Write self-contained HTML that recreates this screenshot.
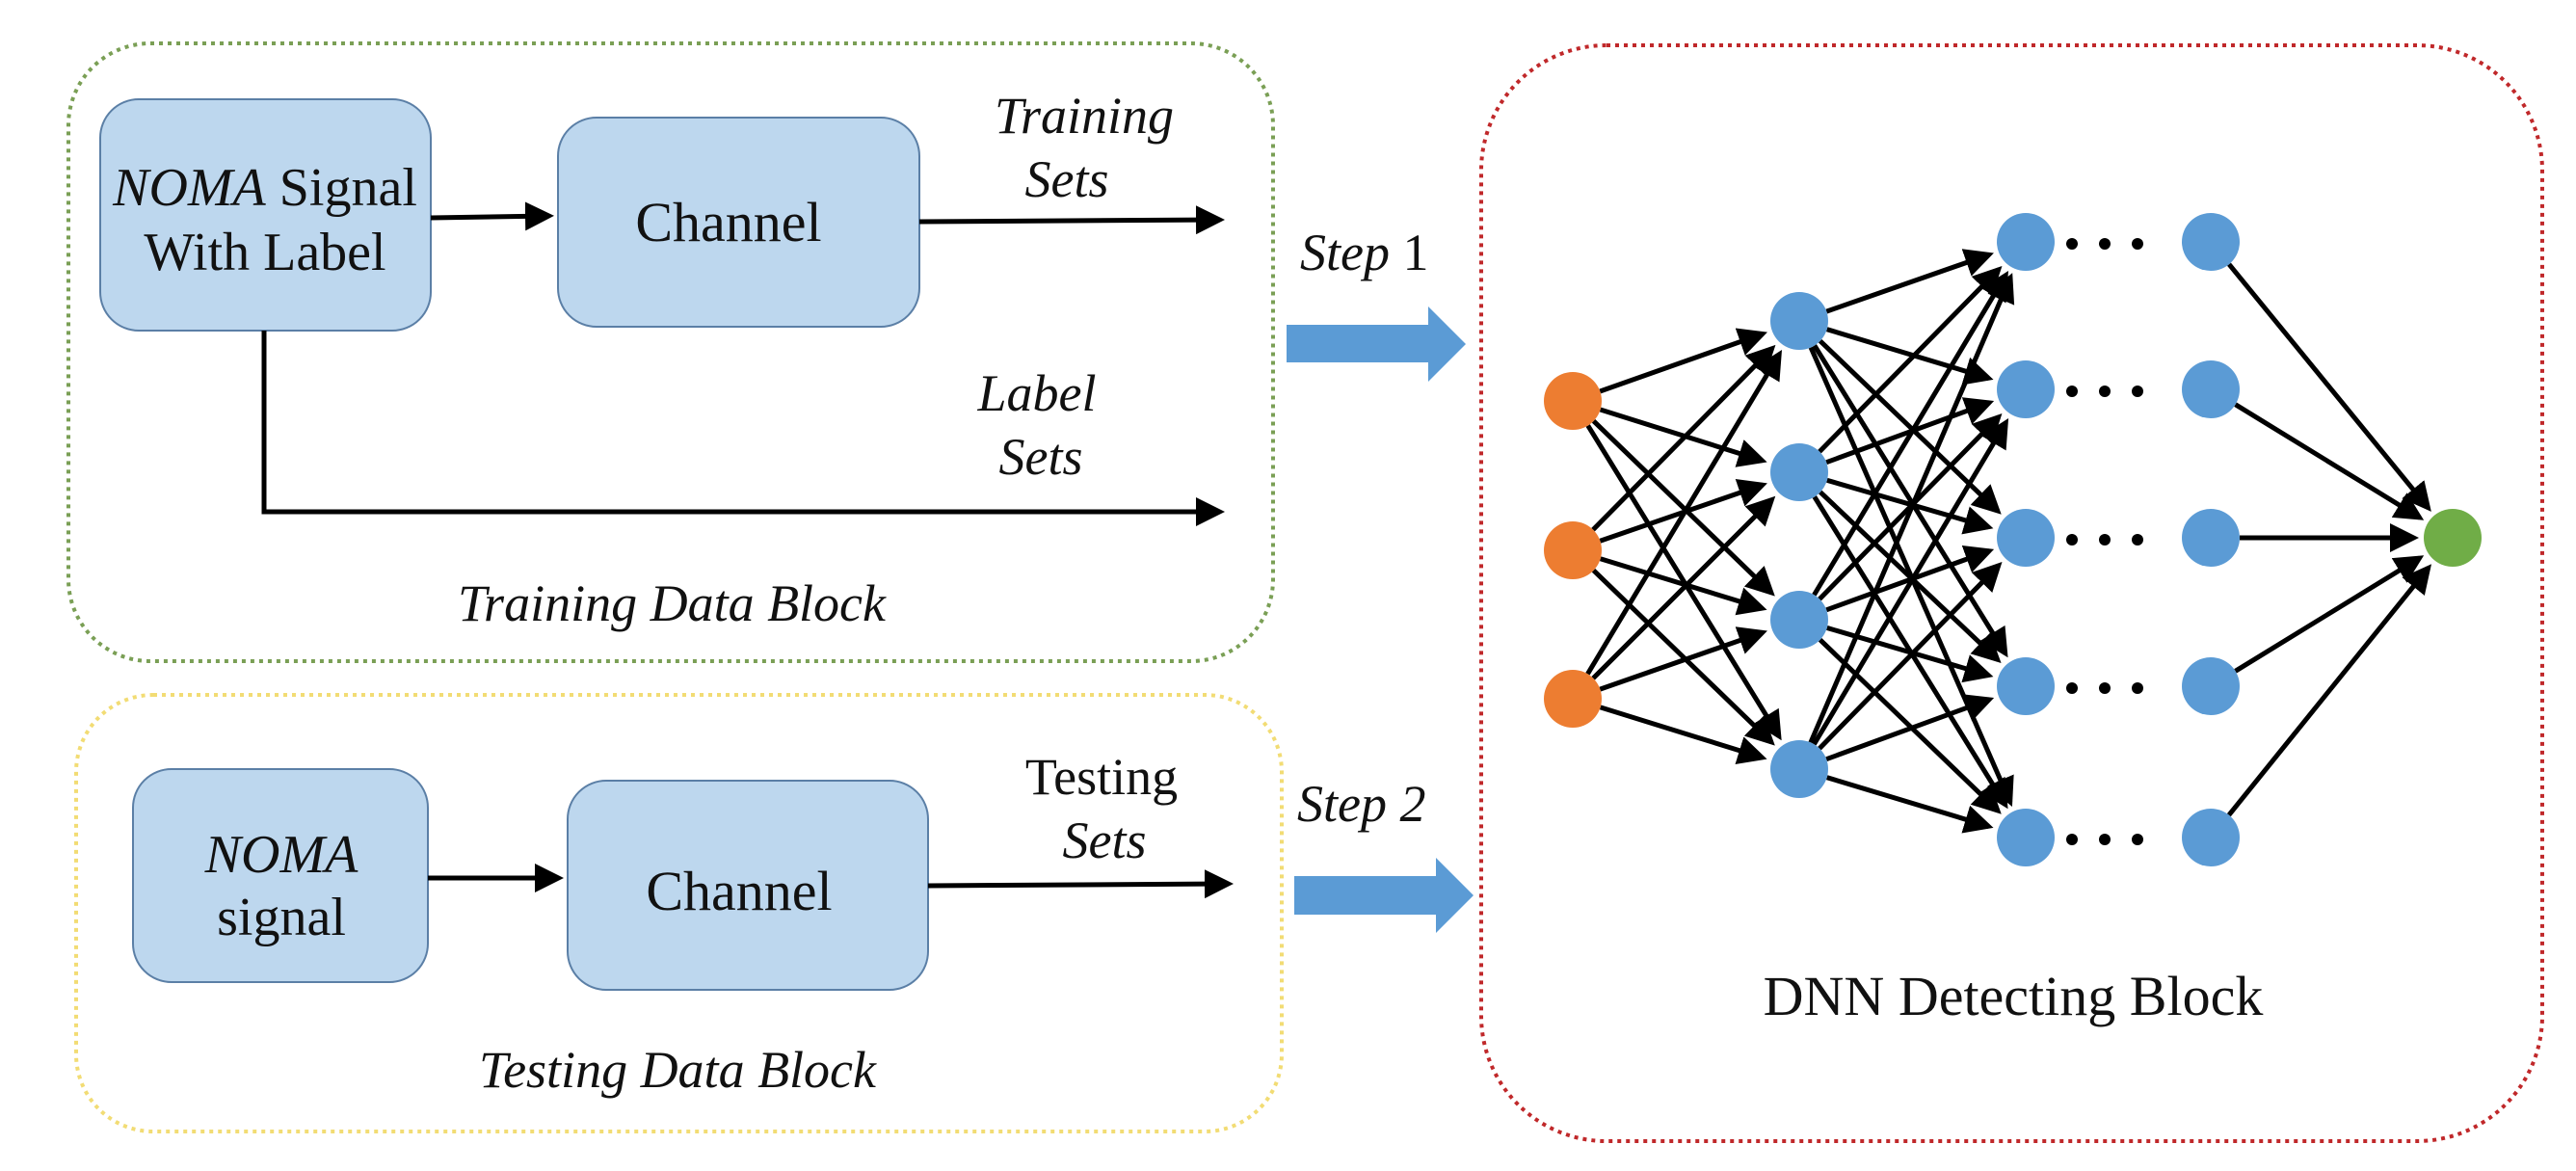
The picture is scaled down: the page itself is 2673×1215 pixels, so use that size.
<!DOCTYPE html>
<html><head><meta charset="utf-8"><style>
html,body{margin:0;padding:0;background:#fff;}
svg{display:block;}
text{font-family:"Liberation Serif","DejaVu Serif",serif !important;fill:#111;}
.it{font-style:italic;}
</style></head><body>
<svg width="2673" height="1215" viewBox="0 0 2673 1215" xmlns="http://www.w3.org/2000/svg" font-family="Liberation Serif, DejaVu Serif, serif">
<defs>
<marker id="ah" markerWidth="6" markerHeight="6" refX="5" refY="3" orient="auto" markerUnits="strokeWidth">
<path d="M0,0 L6,3 L0,6 z" fill="#000"/></marker>
</defs>
<rect x="71" y="45" width="1250" height="641" rx="85" fill="none" stroke="#7a9f55" stroke-width="4" stroke-dasharray="4 5"/>
<rect x="79" y="721" width="1251" height="453" rx="80" fill="none" stroke="#f2dc74" stroke-width="4" stroke-dasharray="4 5"/>
<rect x="1537" y="47" width="1101" height="1137" rx="130" fill="none" stroke="#c0282a" stroke-width="4" stroke-dasharray="4 5"/>

<rect x="104" y="103" width="343" height="240" rx="40" fill="#bdd7ee" stroke="#5b7fa6" stroke-width="2"/>
<text x="275" y="213" font-size="56" text-anchor="middle"><tspan class="it">NOMA</tspan> Signal</text>
<text x="275" y="280" font-size="56" text-anchor="middle">With Label</text>
<rect x="579" y="122" width="375" height="217" rx="40" fill="#bdd7ee" stroke="#5b7fa6" stroke-width="2"/>
<text x="756" y="250" font-size="58" text-anchor="middle">Channel</text>
<line x1="447" y1="226" x2="570" y2="224" stroke="#000" stroke-width="5" marker-end="url(#ah)"/>
<line x1="954" y1="230" x2="1266" y2="228" stroke="#000" stroke-width="5" marker-end="url(#ah)"/>
<text x="1125" y="138" font-size="54" text-anchor="middle" class="it">Training</text>
<text x="1107" y="204" font-size="54" text-anchor="middle" class="it">Sets</text>
<polyline points="274,343 274,531 1266,531" fill="none" stroke="#000" stroke-width="5" marker-end="url(#ah)"/>
<text x="1076" y="426" font-size="54" text-anchor="middle" class="it">Label</text>
<text x="1080" y="492" font-size="54" text-anchor="middle" class="it">Sets</text>
<text x="697" y="644" font-size="54" text-anchor="middle" class="it">Training Data Block</text>

<rect x="138" y="798" width="306" height="221" rx="40" fill="#bdd7ee" stroke="#5b7fa6" stroke-width="2"/>
<text x="292" y="905" font-size="56" text-anchor="middle" class="it">NOMA</text>
<text x="292" y="970" font-size="56" text-anchor="middle">signal</text>
<rect x="589" y="810" width="374" height="217" rx="40" fill="#bdd7ee" stroke="#5b7fa6" stroke-width="2"/>
<text x="767" y="944" font-size="58" text-anchor="middle">Channel</text>
<line x1="444" y1="911" x2="580" y2="911" stroke="#000" stroke-width="5" marker-end="url(#ah)"/>
<line x1="963" y1="919" x2="1275" y2="917" stroke="#000" stroke-width="5" marker-end="url(#ah)"/>
<text x="1143" y="824" font-size="54" text-anchor="middle">Testing</text>
<text x="1146" y="890" font-size="54" text-anchor="middle" class="it">Sets</text>
<text x="703" y="1128" font-size="54" text-anchor="middle" class="it">Testing Data Block</text>

<text x="1349" y="280" font-size="54"><tspan class="it">Step</tspan> 1</text>
<polygon points="1335,337 1482,337 1482,318 1521,357 1482,396 1482,376 1335,376" fill="#5b9bd5"/>
<text x="1346" y="852" font-size="54" class="it">Step 2</text>
<polygon points="1343,909 1490,909 1490,890 1529,929 1490,968 1490,949 1343,949" fill="#5b9bd5"/>

<g stroke="#000" stroke-width="5" fill="none" id="edges"></g>
<g id="nodes"></g>
<text x="2089" y="1053" font-size="58" text-anchor="middle">DNN Detecting Block</text>
<script>
(function(){
var ns="http://www.w3.org/2000/svg";
var L0=[416,571,725].map(function(y){return[1632,y]});
var L1=[333,490,643,798].map(function(y){return[1867,y]});
var L2=[251,404,558,712,869].map(function(y){return[2102,y]});
var L3=[251,404,558,712,869].map(function(y){return[2294,y]});
var OUT=[[2545,558]];
var R=30;
var eg=document.getElementById('edges'),ng=document.getElementById('nodes');
function edge(a,b){
 var dx=b[0]-a[0],dy=b[1]-a[1],d=Math.sqrt(dx*dx+dy*dy);
 var x1=a[0]+dx/d*R,y1=a[1]+dy/d*R,x2=b[0]-dx/d*(R+10),y2=b[1]-dy/d*(R+10);
 var l=document.createElementNS(ns,'line');
 l.setAttribute('x1',x1);l.setAttribute('y1',y1);l.setAttribute('x2',x2);l.setAttribute('y2',y2);
 l.setAttribute('marker-end','url(#ah)');eg.appendChild(l);
}
function conn(A,B){A.forEach(function(a){B.forEach(function(b){edge(a,b)})})}
conn(L0,L1);conn(L1,L2);conn(L3,OUT);
function node(p,c){var e=document.createElementNS(ns,'ellipse');e.setAttribute('cx',p[0]);e.setAttribute('cy',p[1]);e.setAttribute('rx',R);e.setAttribute('ry',R);e.setAttribute('fill',c);ng.appendChild(e);}
L0.forEach(function(p){node(p,'#ed7d31')});
L1.concat(L2,L3).forEach(function(p){node(p,'#5b9bd5')});
node(OUT[0],'#70ad47');
L2.forEach(function(p){[2150,2184,2218].forEach(function(x){var c=document.createElementNS(ns,'circle');c.setAttribute('cx',x);c.setAttribute('cy',p[1]+2);c.setAttribute('r',6);c.setAttribute('fill','#000');ng.appendChild(c);});});
})();
</script>
</svg>
</body></html>
